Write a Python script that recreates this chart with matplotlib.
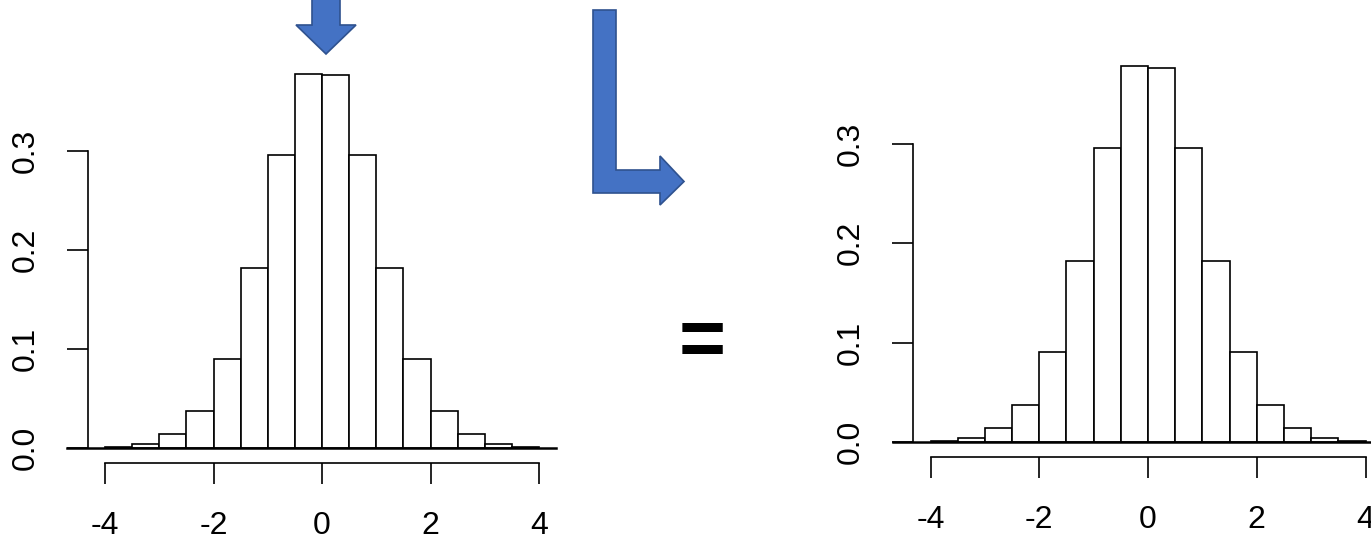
import numpy as np
import matplotlib
matplotlib.use("Agg")
from matplotlib import pyplot as plt
from matplotlib.patches import Polygon

plt.rcParams['font.family'] = ['Liberation Sans', 'DejaVu Sans']

# histogram of the density, bins of width 0.5 between -4 and 4
bin_edges = np.arange(-4, 4.01, 0.5)
densities = [0.0015, 0.0045, 0.014, 0.0375, 0.09, 0.1815, 0.295, 0.3775,
             0.3763, 0.295, 0.1815, 0.09, 0.0375, 0.0138, 0.0045, 0.0015]
x_ticks = [-4, -2, 0, 2, 4]
y_ticks = [0.0, 0.1, 0.2, 0.3]
y_labels = ['0.0', '0.1', '0.2', '0.3']

W, H = 1371, 538
BLUE = '#4472C4'
BLUE_EDGE = '#2F528F'


def r_hist(ax, left_out, bottom_out, line_xmax):
    # R style histogram: detached axes, white bars, baseline at 0
    ax.bar(bin_edges[:-1], densities, width=0.5, align='edge',
           facecolor='white', edgecolor='black', linewidth=1.2, clip_on=False)
    ax.axhline(0, xmin=-0.087, xmax=line_xmax, color='black', lw=1.8,
               clip_on=False, zorder=3)
    ax.set_xlim(-4, 4)
    ax.set_ylim(0, 0.3)
    for s in ['top', 'right']:
        ax.spines[s].set_visible(False)
    ax.spines['left'].set_position(('outward', left_out))
    ax.spines['bottom'].set_position(('outward', bottom_out))
    ax.spines['left'].set_bounds(0, 0.3)
    ax.spines['bottom'].set_bounds(-4, 4)
    for s in ['left', 'bottom']:
        ax.spines[s].set_linewidth(1.2)
    ax.set_xticks(x_ticks)
    ax.set_xticklabels([str(t) for t in x_ticks])
    ax.set_yticks(y_ticks)
    ax.set_yticklabels(y_labels, rotation=90, va='center')
    ax.tick_params(axis='both', length=15, width=1.2, labelsize=23)
    ax.tick_params(axis='y', pad=19)
    ax.tick_params(axis='x', pad=19.5)
    ax.patch.set_visible(False)


fig = plt.figure(figsize=(W / 100, H / 100), dpi=100)

ax1 = fig.add_axes([105 / W, 90 / H, 434 / W, 297.5 / H])
r_hist(ax1, 12.2, 10.5, 1.039)

ax2 = fig.add_axes([930.5 / W, 96 / H, 435 / W, 298.5 / H])
r_hist(ax2, 12.8, 10.8, 1.03)

# overlay in pixel coordinates for the arrows and the equals sign
ov = fig.add_axes([0, 0, 1, 1], zorder=5)
ov.set_xlim(0, W)
ov.set_ylim(H, 0)
ov.axis('off')

down_arrow = [(312, -5), (340, -5), (340, 25), (356, 25), (326, 54),
              (296, 25), (312, 25)]
bent_arrow = [(593, 10), (616, 10), (616, 170), (660, 170), (660, 156),
              (684, 181.5), (660, 205), (660, 193), (593, 193)]
for pts in (down_arrow, bent_arrow):
    ov.add_patch(Polygon(pts, closed=True, facecolor=BLUE,
                         edgecolor=BLUE_EDGE, linewidth=1.2))

ov.text(702, 337, '=', fontsize=58, fontweight='bold', ha='center',
        va='center_baseline')

fig.savefig('out.png', dpi=100)
